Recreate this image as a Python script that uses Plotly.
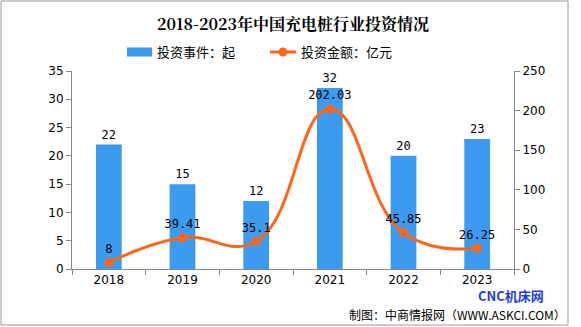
import plotly.graph_objects as go

years = ["2018", "2019", "2020", "2021", "2022", "2023"]
events = [22, 15, 12, 32, 20, 23]
amounts = [8, 39.41, 35.1, 202.03, 45.85, 26.25]
amount_labels = ["8", "39.41", "35.1", "202.03", "45.85", "26.25"]
series_names = ["投资事件：起", "投资金额：亿元"]

W, H = 581, 327
L, R, T, B = 72, 514, 71, 269
pw, ph = R - L, B - T

def px(x):
    return (x - L) / pw

def py(y):
    return (B - y) / ph

FONT = "Noto Sans CJK SC, DejaVu Sans, sans-serif"
BLUE = "#3D9BEF"
ORANGE = "#FF661A"

fig = go.Figure()
fig.add_trace(go.Bar(
    x=years, y=events, name=series_names[0],
    marker=dict(color=BLUE, line=dict(width=0)),
    width=0.35,
    text=[str(v) for v in events], textposition="outside",
    textfont=dict(size=12, color="#000000", family="DejaVu Sans Mono, monospace"),
    cliponaxis=False,
    yaxis="y",
))
fig.add_trace(go.Scatter(
    x=years, y=amounts, name=series_names[1],
    mode="lines+markers+text",
    line=dict(color=ORANGE, width=3, shape="spline", smoothing=1.3),
    marker=dict(color=ORANGE, size=9),
    text=amount_labels, textposition="top center",
    textfont=dict(size=12, color="#000000", family="DejaVu Sans Mono, monospace"),
    cliponaxis=False,
    yaxis="y2",
))

axis_common = dict(
    showgrid=False, zeroline=False, showline=True, linecolor="#888888", linewidth=1,
    ticks="outside", ticklen=5, tickcolor="#888888",
    tickfont=dict(size=12, color="#000000", family="DejaVu Sans, sans-serif"),
)

legend_y = 52
shapes = [
    dict(type="rect", xref="paper", yref="paper",
         x0=px(1), x1=px(568), y0=py(325), y1=py(1),
         line=dict(color="#999999", width=1), fillcolor="rgba(0,0,0,0)", layer="below"),
    dict(type="rect", xref="paper", yref="paper",
         x0=px(127), x1=px(152), y0=py(legend_y + 4.5), y1=py(legend_y - 4.5),
         line=dict(width=0), fillcolor=BLUE),
    dict(type="line", xref="paper", yref="paper",
         x0=px(270), x1=px(296), y0=py(legend_y), y1=py(legend_y),
         line=dict(color=ORANGE, width=3)),
    dict(type="circle", xref="paper", yref="paper",
         x0=px(278.5), x1=px(287.5), y0=py(legend_y + 4.5), y1=py(legend_y - 4.5),
         line=dict(width=0), fillcolor=ORANGE),
]

fig.update_layout(
    width=W, height=H,
    margin=dict(l=L, r=W - R, t=T, b=H - B, pad=0),
    paper_bgcolor="#FFFFFF", plot_bgcolor="#FFFFFF",
    font=dict(family=FONT, color="#000000"),
    showlegend=False,
    xaxis=dict(**axis_common, type="category", tickson="boundaries"),
    yaxis=dict(**axis_common, range=[0, 35], dtick=5),
    yaxis2=dict(**axis_common, range=[0, 250], dtick=50, overlaying="y", side="right"),
    title=dict(
        text="<b>2018-2023年中国充电桩行业投资情况</b>",
        x=0.5, xref="paper", xanchor="center",
        y=1 - 24 / H, yanchor="middle",
        font=dict(size=16, family="Noto Serif CJK SC, Noto Sans CJK SC, serif", color="#000000"),
    ),
    shapes=shapes,
    annotations=[
        dict(text=series_names[0], xref="paper", yref="paper",
             x=px(155), y=py(legend_y), xanchor="left", yanchor="middle", showarrow=False,
             font=dict(size=13, color="#000000", family=FONT)),
        dict(text=series_names[1], xref="paper", yref="paper",
             x=px(299), y=py(legend_y), xanchor="left", yanchor="middle", showarrow=False,
             font=dict(size=13, color="#000000", family=FONT)),
        dict(text="<b>CNC机床网</b>", xref="paper", yref="paper",
             x=px(545), y=py(295), xanchor="right", yanchor="middle", showarrow=False,
             borderpad=0,
             font=dict(size=13, color="#1F3FE0", family="Noto Sans CJK SC, sans-serif")),
        dict(text="制图：中商情报网（WWW.ASKCI.COM）", xref="paper", yref="paper",
             x=px(567), y=py(314), xanchor="right", yanchor="middle", showarrow=False,
             borderpad=0,
             font=dict(size=12, color="#000000", family=FONT)),
    ],
)

fig.write_html("out.html")
